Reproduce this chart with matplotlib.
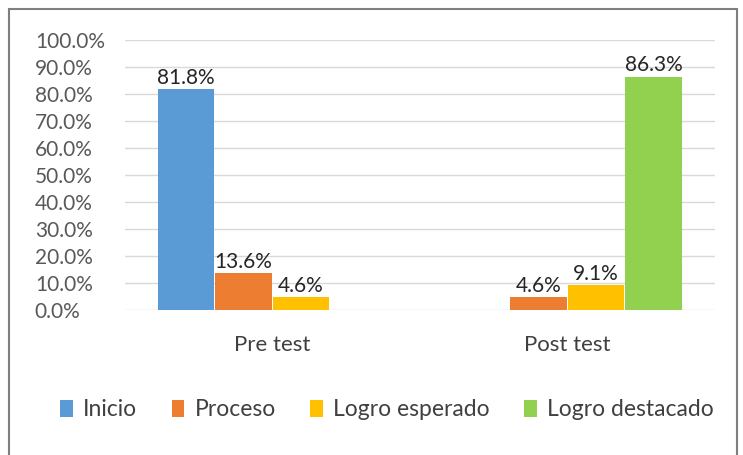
import numpy as np
import matplotlib
matplotlib.use("Agg")
import matplotlib.pyplot as plt
from matplotlib.patches import Rectangle

categories = ["Pre test", "Post test"]
series_names = ["Inicio", "Proceso", "Logro esperado", "Logro destacado"]
inicio = [0.818, 0.0]
proceso = [0.136, 0.046]
logro_esperado = [0.046, 0.091]
logro_destacado = [0.0, 0.863]
colors = ["#5B9BD5", "#ED7D31", "#FFC000", "#92D050"]

plt.rcParams["font.family"] = ["Lato", "DejaVu Sans"]

fig = plt.figure(figsize=(7.43, 4.55), dpi=100)
ax = fig.add_axes([0.168, 0.319, 0.794, 0.593])

# outer frame
fig.patches.append(Rectangle((9 / 743, -0.01), 728 / 743, 1 - 9 / 455 + 0.01,
                             transform=fig.transFigure, fill=False,
                             edgecolor="#7f7f7f", linewidth=1.5))

x = np.arange(len(categories))
width = 0.195
all_series = [inicio, proceso, logro_esperado, logro_destacado]
for i, (name, vals) in enumerate(zip(series_names, all_series)):
    pos = x + (i - 1.5) * width
    bars = ax.bar(pos, vals, width * 0.98, color=colors[i], label=name, zorder=3)
    for b, v in zip(bars, vals):
        if v > 0:
            ax.text(b.get_x() + b.get_width() / 2, v + 0.006, f"{v * 100:.1f}%",
                    ha="center", va="bottom", fontsize=15, color="#262626")

ax.set_xlim(-0.5, 1.5)
ax.set_ylim(0, 1.0)
ticks = np.arange(0, 1.01, 0.1)
ax.set_yticks(ticks)
ax.set_yticklabels([f"{t * 100:.1f}%" for t in ticks])
for lab in ax.get_yticklabels():
    lab.set_horizontalalignment("left")
ax.tick_params(axis="y", length=0, pad=64.8, labelsize=15, labelcolor="#595959")
ax.set_xticks(x)
ax.set_xticklabels(categories)
ax.tick_params(axis="x", length=0, pad=18, labelsize=16, labelcolor="#404040")
ax.grid(axis="y", color="#d9d9d9", linewidth=1, zorder=0)
for s in ax.spines.values():
    s.set_visible(False)

fig.legend(loc="center", bbox_to_anchor=(0.521, 0.099), ncol=4, frameon=False,
           fontsize=16.5, handlelength=0.55, handleheight=0.8, handletextpad=0.45,
           columnspacing=1.5, labelcolor="#404040")

fig.savefig("out.png", dpi=100)
